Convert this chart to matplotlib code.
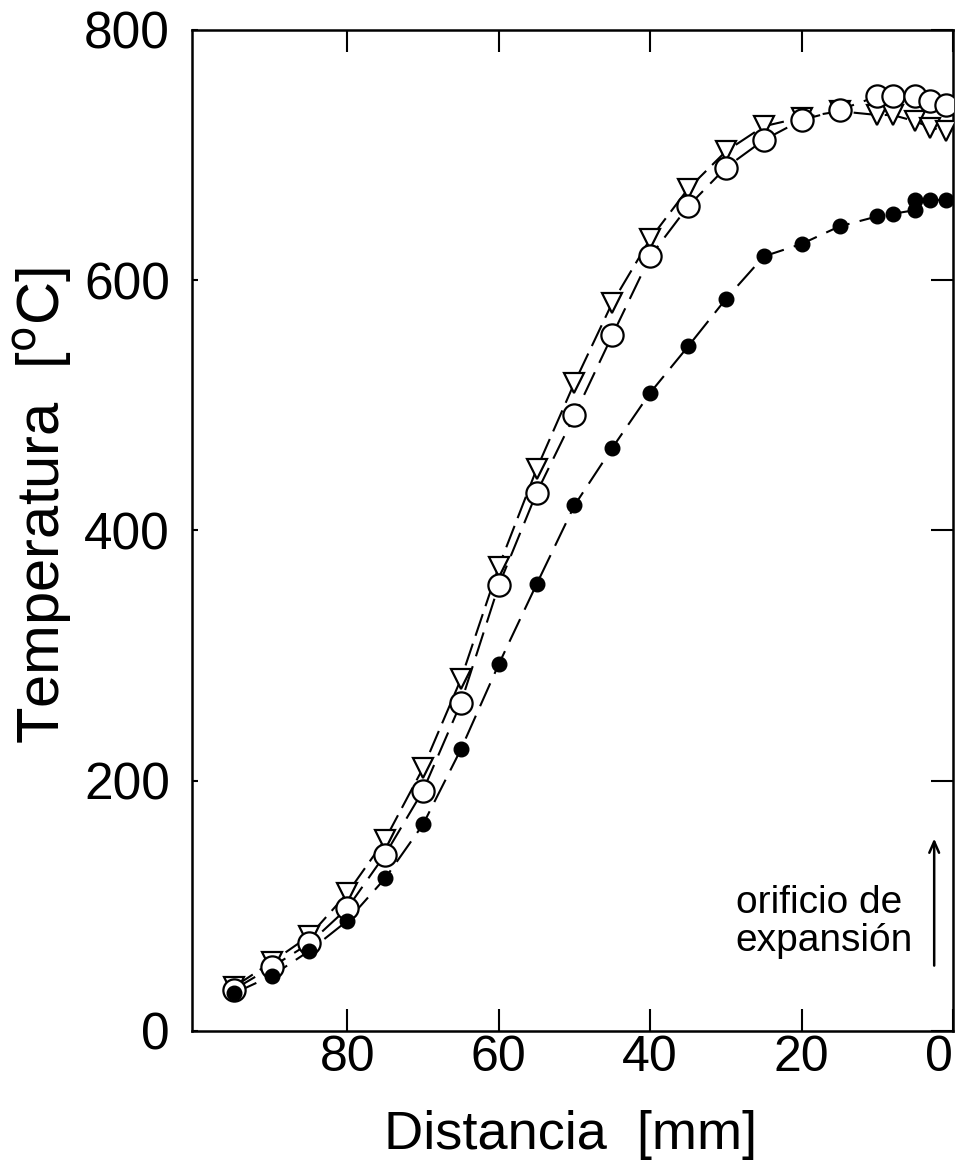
import matplotlib
matplotlib.use('Agg')
import matplotlib.pyplot as plt

# distance [mm] and temperature [C]
dist = [95, 90, 85, 80, 75, 70, 65, 60, 55, 50, 45, 40, 35, 30, 25, 20, 15, 10, 8, 5, 3, 1]
temp_circle = [33, 51, 70, 98, 141, 192, 262, 356, 430, 492, 556, 619, 659, 690, 712, 728,
               736, 747, 747, 747, 743, 740]
temp_triangle = [35, 55, 76, 110, 153, 210, 281, 371, 449, 518, 582, 633, 673, 703, 723, 730,
                 735, 732, 732, 727, 722, 719]

dist_filled = [95, 90, 85, 80, 75, 70, 65, 60, 55, 50, 45, 40, 35, 30, 25, 20, 15, 10, 8, 5, 5, 3, 1]
temp_filled = [30, 44, 64, 88, 122, 165, 225, 293, 357, 420, 466, 510, 547, 585, 619, 629,
               643, 651, 653, 656, 664, 664, 664]

xticks = [80, 60, 40, 20, 0]
yticks = [0, 200, 400, 600, 800]

plt.rcParams['font.family'] = ['Liberation Sans', 'DejaVu Sans']

fig = plt.figure(figsize=(9.61, 11.73), dpi=100)
ax = fig.add_axes([0.1998, 0.1211, 0.792, 0.8534])

lw = 1.5
# lines first, markers with white faces on top
ax.plot(dist_filled, temp_filled, color='k', lw=lw, dashes=(12, 5), zorder=1)
ax.plot(dist, temp_triangle, color='k', lw=lw, dashes=(11, 4), zorder=1)
ax.plot(dist, temp_circle, color='k', lw=lw, dashes=(12, 5), zorder=1)

ax.plot(dist_filled, temp_filled, ls='none', marker='o', ms=10.5, color='k', zorder=4)
ax.plot(dist, temp_triangle, ls='none', marker='v', ms=14, mfc='white', mec='k', mew=1.6, zorder=3)
ax.plot(dist, temp_circle, ls='none', marker='o', ms=16, mfc='white', mec='k', mew=1.6, zorder=3)

ax.set_xlim(100.5, 0.2)
ax.set_ylim(0, 800)

ax.set_xticks(xticks)
ax.set_yticks(yticks)
ax.set_xticklabels([str(v) for v in xticks], fontsize=36)
ax.set_yticklabels([str(v) for v in yticks], fontsize=37)
ax.get_xticklabels()[-1].set_horizontalalignment('right')

ax.tick_params(axis='x', direction='in', length=16, width=1.5, top=True, pad=3)
ax.tick_params(axis='y', direction='in', length=4, width=1.5, pad=16)
ax.tick_params(axis='y', which='major', right=True)
for t in ax.yaxis.get_ticklines()[1::2]:
    t.set_markersize(16)

for s in ax.spines.values():
    s.set_linewidth(1.8)

fig.text(0.5935, 0.0324, 'Distancia  [mm]', fontsize=39, ha='center', va='center')
fig.text(0.044, 0.5695, 'Temperatura  [$^{\\rm o}$C]', fontsize=43, ha='center', va='center',
         rotation=90)

ax.text(28.7, 87, 'orificio de\nexpansión', fontsize=28, ha='left', va='center', linespacing=1.1)
ax.annotate('', xy=(2.5, 156), xytext=(2.5, 50),
            arrowprops=dict(arrowstyle='->,head_length=0.8,head_width=0.35', lw=1.8, color='k'))

fig.savefig('out.png', dpi=100)
